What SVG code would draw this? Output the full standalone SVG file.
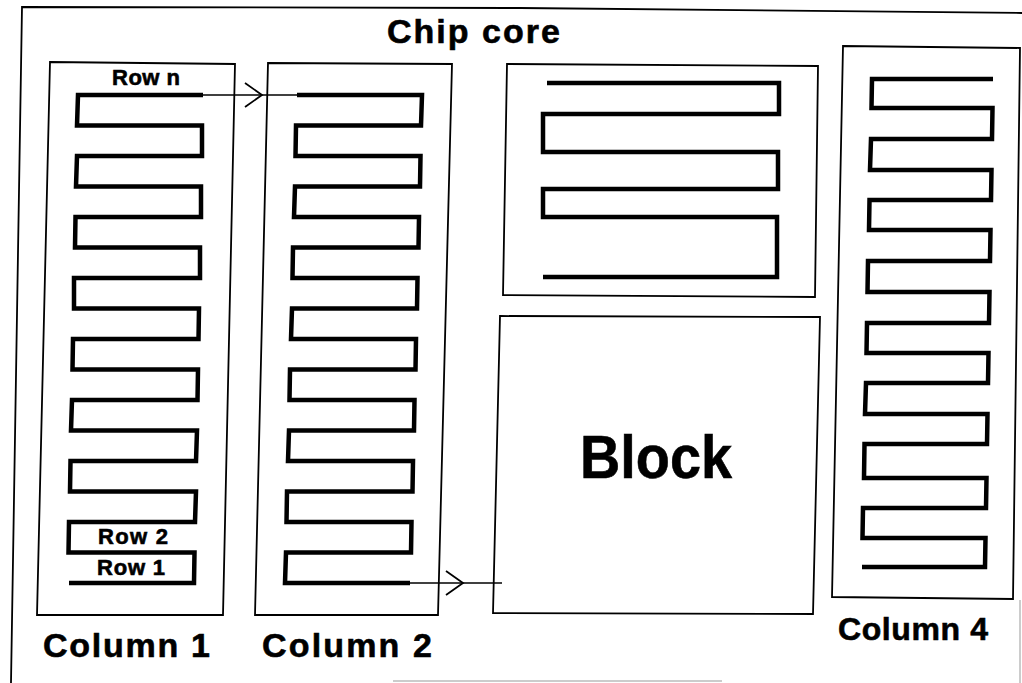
<svg xmlns="http://www.w3.org/2000/svg" width="1022" height="683" viewBox="0 0 1022 683">
<style>
.box{fill:none;stroke:#000;stroke-width:1.8;stroke-linejoin:miter}
.wire{fill:none;stroke:#000;stroke-width:4.5;stroke-linejoin:miter;stroke-linecap:butt}
.conn{fill:none;stroke:#000;stroke-width:1.6}
.faint{fill:none;stroke:#bbb;stroke-width:1.5}
.t{font-family:"Liberation Sans",Arial,Helvetica,sans-serif;font-weight:bold;fill:#000;stroke:#000;stroke-width:0.6}
.big{font-size:34px}
.row{font-size:22px}
</style>
<defs>
<marker id="chev" viewBox="-20 -15 24 30" refX="0" refY="0" markerWidth="24" markerHeight="30" markerUnits="userSpaceOnUse" orient="auto">
<path d="M-17,-12 L0,0 L-17,12" fill="none" stroke="#000" stroke-width="1.8"/>
</marker>
</defs>
<rect x="0" y="0" width="1022" height="683" fill="#fff"/>

<g id="chip-core">
<path class="box" d="M11,683 L22,7 L520,8 L1022,13"/>
<path class="faint" d="M1020,600 L1020,683"/>
<path class="faint" d="M393,681 L722,681"/>
<text class="t big" x="387" y="43" textLength="173">Chip core</text>
</g>

<g id="column-1">
<path class="box" d="M50,62 L235,64 L223,615 L37,615 Z"/>
<path class="wire" d="M203,95 H78 L77,125.5 H202 L202,156 H77 L76,186.5 H201 L201,217 H75.5 L75,247.5 H200 L200,278 H74 L74,308.5 H199 L198.5,339 H73 L72.5,369.5 H198 L197.5,400 H72 L71,430.5 H197 L196,461 H70.5 L70,491.5 H196 L195,522 H69 L68.5,552.5 H194.5 L194,583 H69"/>
<text class="t row" x="112" y="85" textLength="68">Row n</text>
<text class="t row" x="98" y="544" textLength="70">Row 2</text>
<text class="t row" x="97" y="575" textLength="68">Row 1</text>
<text class="t big" x="43" y="657" textLength="167">Column 1</text>
</g>

<g id="column-2">
<path class="box" d="M268,63 L452,64 L438,615 L255,615 Z"/>
<path class="wire" d="M297,95 H422 L421,125.5 H296 L295.5,156 H420.5 L420,186.5 H295 L294,217 H419 L418.5,247.5 H293 L292.5,278 H417.5 L417,308.5 H292 L291,339 H416 L415.5,369.5 H290 L289.5,400 H414.5 L414,430.5 H289 L288,461 H413 L412.5,491.5 H287 L286.5,522 H411.5 L411,552.5 H286 L285,583 H410"/>
<text class="t big" x="262" y="657" textLength="170">Column 2</text>
</g>

<g id="serpentine-block">
<path class="box" d="M507,64 L818,66 L815,297 L503,295 Z"/>
<path class="wire" d="M547,83 H779 V114 H543 V152 H778 V189 H543 V217 H777 V277 H543"/>
</g>

<g id="block">
<path class="box" d="M500,316 L820,317 L813,614 L493,613 Z"/>
<text class="t" x="580" y="478" font-size="62" textLength="152" lengthAdjust="spacingAndGlyphs">Block</text>
</g>

<g id="column-4">
<path class="box" d="M843,46 L1020,48 L1013,599 L832,597 Z"/>
<path class="wire" d="M993,79 H872 L871.5,108 H992.5 L992,139 H871 L870,170 H991.5 L991,200 H869.5 L869,230 H990.5 L990,261 H868 L867.5,292 H989.5 L989,323 H867 L866.5,353 H988.5 L988,383 H866 L865,414 H987.5 L987,444 H864.5 L864,478 H986.5 L986,508 H863 L862.5,538 H985.5 L985,567 H862"/>
<text class="t" x="838" y="640" font-size="32" textLength="150">Column 4</text>
</g>

<g id="connectors">
<path class="conn" d="M203,95 L262,95 L297,95" marker-mid="url(#chev)"/>
<path class="conn" d="M410,583 L463,583 L502,583" marker-mid="url(#chev)"/>
</g>
</svg>
